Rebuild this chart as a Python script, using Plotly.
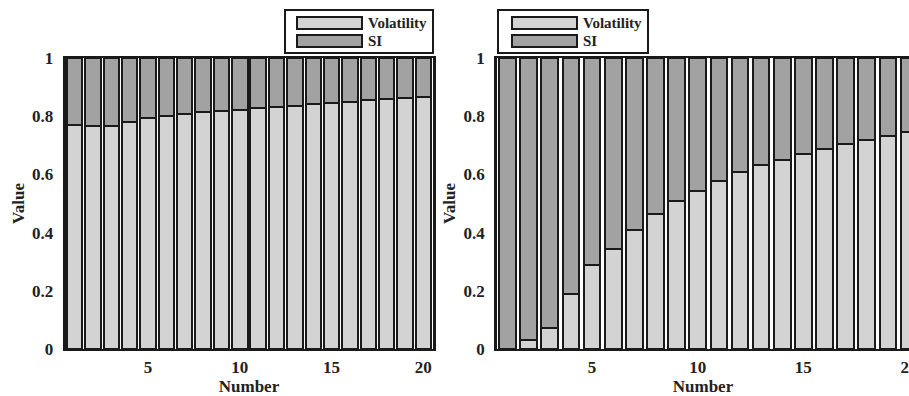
import plotly.graph_objects as go
from plotly.subplots import make_subplots

numbers = list(range(1, 21))
vol_left = [0.771, 0.765, 0.767, 0.779, 0.794, 0.800, 0.806, 0.813, 0.817, 0.822,
            0.828, 0.832, 0.836, 0.842, 0.847, 0.850, 0.855, 0.859, 0.863, 0.866]
vol_right = [0.0, 0.030, 0.072, 0.189, 0.289, 0.345, 0.408, 0.465, 0.507, 0.542,
             0.576, 0.607, 0.633, 0.651, 0.671, 0.688, 0.704, 0.719, 0.733, 0.745]
si_left = [round(1 - v, 3) for v in vol_left]
si_right = [round(1 - v, 3) for v in vol_right]
series_names = ["Volatility", "SI"]
xtick_vals = [5, 10, 15, 20]
ytick_vals = [0, 0.2, 0.4, 0.6, 0.8, 1]

LIGHT = "#d3d3d3"
DARK = "#a2a2a2"
EDGE = "#1a1a1a"
FONT = "Liberation Serif"
W, H = 909, 396

fig = make_subplots(rows=1, cols=2)
fig.update_layout(barmode="stack")

for col, vol, si, bw in [(1, vol_left, si_left, 0.84), (2, vol_right, si_right, 0.79)]:
    fig.add_trace(go.Bar(x=numbers, y=vol, name=series_names[0], width=bw,
                         marker=dict(color=LIGHT, line=dict(color=EDGE, width=2)),
                         showlegend=False), row=1, col=col)
    fig.add_trace(go.Bar(x=numbers, y=si, name=series_names[1], width=bw,
                         marker=dict(color=DARK, line=dict(color=EDGE, width=2)),
                         showlegend=False), row=1, col=col)

tickfont = dict(family=FONT, size=17, color="#222", weight="bold")
titlefont = dict(family=FONT, size=17, color="#222", weight="bold")

fig.update_layout(
    width=W, height=H,
    margin=dict(l=0, r=0, t=58, b=47, autoexpand=False),
    plot_bgcolor="white", paper_bgcolor="white",
    xaxis=dict(domain=[65.5 / W, 432.5 / W], range=[0.5, 20.5]),
    xaxis2=dict(domain=[497 / W, 1.0], range=[0.5, 20.0]),
)
fig.update_xaxes(tickvals=xtick_vals, showgrid=False, zeroline=False, ticks="",
                 showline=True, linecolor=EDGE, linewidth=2, mirror=True, automargin=False,
                 tickfont=tickfont, ticklabelstandoff=2, ticklabeloverflow="allow",
                 title=dict(text="Number", font=titlefont, standoff=2))
fig.update_yaxes(range=[0, 1], tickvals=ytick_vals, showgrid=False, zeroline=False, ticks="",
                 showline=True, linecolor=EDGE, linewidth=2.5, automargin=False,
                 tickfont=tickfont, ticklabelstandoff=6,
                 title=dict(text="Value", font=titlefont, standoff=4))
fig.update_yaxes(mirror=True, row=1, col=1)
fig.update_yaxes(mirror=False, row=1, col=2)

# legends drawn as boxes in pixel-derived paper coordinates
def px(x):
    return x / W

def py(y):
    return (H - y - 47) / (H - 58 - 47)

shapes = []
annotations = []
for bx0, bx1, sx0, sx1, tx in [(285, 433, 297, 362, 367), (498, 648, 512, 577, 582)]:
    shapes.append(dict(type="rect", xref="paper", yref="paper",
                       x0=px(bx0), x1=px(bx1), y0=py(53), y1=py(10),
                       line=dict(color=EDGE, width=2), fillcolor="white", layer="above"))
    for i, (name, color) in enumerate(zip(series_names, [LIGHT, DARK])):
        yc = 23 + 18 * i
        shapes.append(dict(type="rect", xref="paper", yref="paper",
                           x0=px(sx0), x1=px(sx1), y0=py(yc + 6), y1=py(yc - 6),
                           line=dict(color=EDGE, width=2), fillcolor=color, layer="above"))
        annotations.append(dict(text=name, xref="paper", yref="paper",
                                x=px(tx), y=py(yc), borderpad=0,
                                xanchor="left", yanchor="middle", showarrow=False,
                                font=dict(family=FONT, size=15, color="#222", weight="bold")))

fig.update_layout(shapes=shapes, annotations=list(fig.layout.annotations) + annotations)

fig.write_html("out.html")
